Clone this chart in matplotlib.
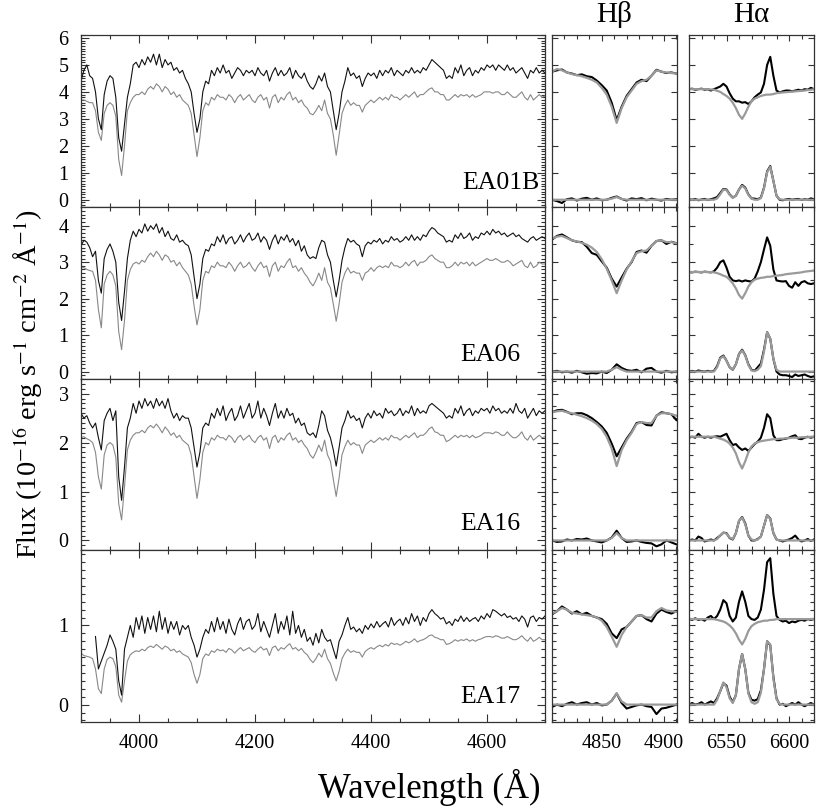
#!/usr/bin/env python
#------------------------------
# EA galaxies: blue spectra (data + model) with Hbeta / Halpha zooms
#------------------------------

import numpy as np
import matplotlib
matplotlib.use('Agg')
import matplotlib.pyplot as plt
from matplotlib.ticker import MultipleLocator

nan = np.nan

#------------------------------
# wavelength grids (Angstrom)

wl_blue = np.arange(3900, 4701, 5)
wl_hb   = np.arange(4810, 4911, 4)
wl_ha   = np.arange(6520, 6620.1, 2.5)

names = ['EA01B', 'EA06', 'EA16', 'EA17']

#------------------------------
# blue spectra, observed (obs) and model (mod), 10 values per 50 A

obs_ea01b = [4.4, 4.8, 5.0, 4.6, 4.5, 4.0, 3.0, 2.6, 3.9, 4.4,
             4.6, 4.5, 3.8, 2.3, 1.8, 2.8, 3.8, 4.3, 5.0, 5.1,
             4.9, 5.2, 5.0, 5.3, 5.1, 5.4, 5.0, 5.4, 4.9, 5.2,
             5.0, 5.1, 4.8, 4.9, 4.7, 4.8, 4.5, 4.3, 4.0, 3.2,
             2.5, 3.0, 4.0, 4.4, 4.3, 4.8, 4.6, 4.9, 4.7, 5.0,
             4.7, 4.8, 4.5, 4.7, 4.9, 4.8, 4.6, 4.8, 4.7, 4.8,
             4.6, 4.9, 4.7, 4.6, 4.8, 4.4, 4.7, 4.9, 4.6, 4.8,
             4.6, 4.7, 4.9, 4.5, 4.8, 4.6, 4.5, 4.7, 4.4, 4.2,
             4.1, 4.3, 4.6, 4.4, 4.7, 4.2, 4.0, 3.3, 2.6, 3.2,
             4.0, 4.4, 4.9, 4.6, 4.7, 4.5, 4.6, 4.2, 4.5, 4.7,
             4.6, 4.7, 4.5, 4.8, 4.6, 4.8, 4.7, 4.9, 4.6, 4.8,
             4.7, 4.6, 4.8, 4.7, 4.9, 4.7, 4.8, 4.7, 4.9, 4.8,
             5.0, 5.2, 5.1, 5.0, 4.9, 4.8, 4.5, 4.6, 4.5, 4.9,
             4.7, 5.0, 4.6, 4.8, 4.9, 4.6, 4.8, 4.7, 4.9, 4.8,
             5.0, 4.9, 5.0, 4.8, 5.0, 4.9, 4.8, 5.0, 4.8, 4.9,
             4.7, 4.8, 4.9, 4.7, 4.5, 4.8, 4.7, 4.9, 4.7, 4.8,
             4.7]
mod_ea01b = [3.7, 3.7, 3.65, 3.6, 3.6, 3.3, 2.5, 2.2, 3.2, 3.5,
             3.6, 3.5, 3.1, 1.5, 0.9, 2.0, 3.3, 3.6, 3.8, 3.9,
             3.9, 4.0, 3.9, 4.1, 4.2, 4.1, 4.3, 4.2, 4.0, 4.2,
             4.1, 3.9, 4.0, 3.8, 3.9, 3.7, 3.6, 3.5, 3.2, 2.4,
             1.6, 2.3, 3.3, 3.6, 3.5, 3.8, 3.7, 3.9, 3.8, 3.8,
             3.7, 3.9, 3.8, 3.6, 3.8, 3.9, 3.7, 3.8, 3.9, 3.7,
             3.6, 3.8, 3.9, 3.7, 3.8, 3.4, 3.8, 3.9, 3.6, 3.8,
             3.7, 3.9, 4.0, 3.7, 3.8, 3.6, 3.7, 3.5, 3.4, 3.2,
             3.15, 3.3, 3.5, 3.3, 3.7, 3.2, 3.0, 2.4, 1.65, 2.4,
             3.2, 3.5, 3.7, 3.5, 3.6, 3.5, 3.5, 3.25, 3.5, 3.6,
             3.7, 3.6, 3.7, 3.8, 3.7, 3.8, 3.7, 3.9, 3.8, 3.8,
             3.7, 3.8, 3.9, 3.8, 3.9, 4.0, 3.8, 3.9, 3.9, 4.0,
             4.1, 4.15, 4.0, 4.0, 3.9, 3.9, 3.7, 3.7, 3.8, 3.9,
             3.8, 3.9, 3.85, 3.9, 3.8, 3.9, 3.8, 3.85, 3.9, 4.0,
             4.0, 4.0, 3.95, 4.0, 4.0, 3.9, 3.9, 4.0, 3.9, 3.8,
             3.8, 3.9, 4.0, 3.8, 3.7, 3.9, 3.7, 3.8, 3.9, 3.8,
             3.85]

obs_ea06 = [3.45, 3.6, 3.55, 3.4, 3.15, 3.3, 2.5, 2.15, 3.1, 3.35,
            3.5, 3.3, 3.0, 1.9, 1.4, 2.2, 3.1, 3.6, 3.85, 3.7,
            3.9, 3.8, 4.05, 3.85, 4.0, 3.9, 4.05, 3.8, 3.95, 3.7,
            3.85, 3.65, 3.6, 3.75, 3.55, 3.6, 3.5, 3.45, 3.2, 2.6,
            2.0, 2.4, 3.1, 3.35, 3.3, 3.5, 3.45, 3.7, 3.55, 3.75,
            3.5, 3.65, 3.7, 3.5, 3.6, 3.75, 3.55, 3.7, 3.8, 3.6,
            3.65, 3.8, 3.55, 3.7, 3.6, 3.35, 3.6, 3.75, 3.5, 3.7,
            3.6, 3.75, 3.55, 3.65, 3.45, 3.6, 3.3, 3.45, 3.2, 3.1,
            3.15, 3.1, 3.4, 3.6, 3.55, 3.2, 3.0, 2.5, 2.05, 2.5,
            3.05, 3.4, 3.65, 3.55, 3.6, 3.5, 3.45, 3.15, 3.45, 3.55,
            3.5, 3.6, 3.55, 3.65, 3.5, 3.6, 3.55, 3.7, 3.6, 3.65,
            3.55, 3.6, 3.7, 3.6, 3.75, 3.6, 3.7, 3.6, 3.75, 3.7,
            3.85, 3.95, 3.9, 3.8, 3.75, 3.7, 3.55, 3.6, 3.55, 3.75,
            3.65, 3.8, 3.65, 3.7, 3.8, 3.6, 3.7, 3.65, 3.8, 3.75,
            3.85, 3.75, 3.9, 3.8, 3.85, 3.75, 3.8, 3.7, 3.75, 3.8,
            3.7, 3.75, 3.65, 3.6, 3.55, 3.65, 3.7, 3.6, 3.65, 3.7,
            3.65]
mod_ea06 = [2.85, 2.85, 2.8, 2.77, 2.75, 2.5, 1.7, 1.2, 2.4, 2.65,
            2.75, 2.65, 2.35, 1.1, 0.6, 1.4, 2.5, 2.8, 2.95, 3.0,
            2.95, 3.05, 3.0, 3.15, 3.25, 3.15, 3.3, 3.2, 3.05, 3.2,
            3.15, 3.0, 3.05, 2.9, 3.0, 2.85, 2.75, 2.65, 2.4, 1.8,
            1.28, 1.7, 2.5, 2.75, 2.7, 2.9, 2.85, 3.0, 2.9, 2.9,
            2.85, 3.0, 2.9, 2.75, 2.9, 3.0, 2.85, 2.9, 3.0, 2.85,
            2.75, 2.9, 3.0, 2.85, 2.9, 2.6, 2.9, 3.0, 2.75, 2.9,
            2.85, 3.0, 3.1, 2.85, 2.9, 2.75, 2.85, 2.7, 2.6, 2.45,
            2.35, 2.5, 2.7, 2.5, 2.85, 2.45, 2.3, 1.85, 1.38, 1.85,
            2.45, 2.7, 2.85, 2.7, 2.75, 2.7, 2.7, 2.5, 2.7, 2.75,
            2.85, 2.75, 2.85, 2.9, 2.85, 2.9, 2.85, 3.0, 2.9, 2.9,
            2.85, 2.9, 3.0, 2.9, 3.0, 3.05, 2.9, 3.0, 3.0, 3.05,
            3.15, 3.2, 3.1, 3.05, 3.0, 3.0, 2.85, 2.85, 2.9, 3.0,
            2.9, 3.0, 2.95, 3.0, 2.9, 3.0, 2.9, 2.95, 3.0, 3.05,
            3.1, 3.05, 3.05, 3.1, 3.05, 3.0, 3.0, 3.05, 3.0, 2.9,
            2.95, 3.0, 3.05, 2.9, 2.85, 3.0, 2.85, 2.9, 3.0, 2.95,
            2.95]

obs_ea16 = [2.6, 2.5, 2.55, 2.4, 2.3, 2.4, 2.1, 1.85, 2.45, 2.6,
            2.7, 2.45, 2.65, 1.3, 0.82, 1.5, 2.3, 2.5, 2.8, 2.6,
            2.85, 2.7, 2.9, 2.75, 2.85, 2.7, 2.9, 2.75, 2.85, 2.7,
            2.9, 2.65, 2.5, 2.6, 2.45, 2.55, 2.5, 2.5, 2.3, 1.9,
            1.5, 1.8, 2.3, 2.4, 2.35, 2.6, 2.5, 2.7, 2.55, 2.75,
            2.45, 2.6, 2.7, 2.45, 2.55, 2.75, 2.5, 2.65, 2.8, 2.5,
            2.6, 2.85, 2.5, 2.7, 2.55, 2.35, 2.6, 2.8, 2.5, 2.65,
            2.5, 2.7, 2.55, 2.6, 2.4, 2.5, 2.35, 2.4, 2.2, 2.15,
            2.2, 2.1, 2.35, 2.65, 2.55, 2.25, 2.1, 1.85, 1.52, 1.9,
            2.3, 2.45, 2.65, 2.5, 2.55, 2.45, 2.5, 2.3, 2.5, 2.6,
            2.5, 2.65, 2.55, 2.6, 2.5, 2.7, 2.6, 2.65, 2.55, 2.6,
            2.7, 2.55, 2.65, 2.6, 2.75, 2.55, 2.7, 2.6, 2.65, 2.6,
            2.75, 2.8, 2.75, 2.7, 2.65, 2.6, 2.5, 2.55, 2.5, 2.7,
            2.6, 2.75, 2.55, 2.65, 2.7, 2.55, 2.65, 2.6, 2.7, 2.65,
            2.7, 2.6, 2.75, 2.65, 2.7, 2.6, 2.65, 2.6, 2.7, 2.6,
            2.8, 2.65, 2.6, 2.7, 2.5, 2.6, 2.7, 2.55, 2.65, 2.6,
            2.65]
mod_ea16 = [2.1, 2.12, 2.08, 2.05, 2.0, 1.8, 1.3, 1.05, 1.75, 1.95,
            2.0, 1.95, 1.7, 0.75, 0.42, 1.1, 1.85, 2.05, 2.15, 2.2,
            2.2, 2.25, 2.2, 2.3, 2.35, 2.3, 2.38, 2.3, 2.2, 2.32,
            2.25, 2.15, 2.2, 2.1, 2.15, 2.05, 2.0, 1.95, 1.75, 1.3,
            0.86, 1.25, 1.8, 2.0, 1.95, 2.1, 2.05, 2.15, 2.1, 2.1,
            2.05, 2.15, 2.1, 2.0, 2.1, 2.15, 2.05, 2.1, 2.15, 2.05,
            2.0, 2.1, 2.15, 2.05, 2.1, 1.88, 2.1, 2.15, 2.0, 2.1,
            2.05, 2.15, 2.2, 2.05, 2.1, 2.0, 2.05, 1.95, 1.88, 1.75,
            1.68, 1.8, 1.95, 1.82, 2.05, 1.75, 1.62, 1.25, 0.9, 1.28,
            1.75, 1.92, 2.05, 1.95, 2.0, 1.95, 1.95, 1.78, 1.95, 2.0,
            2.05, 2.0, 2.05, 2.1, 2.05, 2.1, 2.05, 2.15, 2.1, 2.1,
            2.05, 2.1, 2.15, 2.1, 2.15, 2.2, 2.1, 2.15, 2.15, 2.2,
            2.28, 2.32, 2.22, 2.2, 2.15, 2.15, 2.02, 2.05, 2.1, 2.15,
            2.1, 2.15, 2.12, 2.15, 2.1, 2.15, 2.1, 2.12, 2.15, 2.2,
            2.2, 2.2, 2.18, 2.22, 2.2, 2.15, 2.15, 2.22, 2.15, 2.1,
            2.1, 2.15, 2.22, 2.1, 2.05, 2.15, 2.05, 2.1, 2.15, 2.1,
            2.12]

obs_ea17 = [nan, nan, nan, nan, nan, 0.86, 0.45, 0.55, 0.65, 0.75,
            0.88, 0.8, 0.7, 0.3, 0.12, 0.7, 0.85, 1.0, 0.85, 1.1,
            0.95, 1.12, 0.9, 1.1, 0.95, 1.12, 0.92, 1.18, 0.95, 1.1,
            0.9, 1.05, 0.95, 1.05, 0.88, 1.0, 0.95, 1.0, 0.85, 0.75,
            0.6, 0.7, 0.85, 0.95, 0.9, 1.05, 0.92, 1.1, 0.95, 1.05,
            0.9, 1.08, 0.95, 0.88, 1.02, 1.1, 0.95, 1.05, 1.08, 0.95,
            1.0, 1.15, 0.92, 1.05, 0.95, 0.85, 1.0, 1.15, 0.9, 1.05,
            0.95, 1.12, 0.88, 1.18, 0.9, 1.0, 0.85, 0.95, 0.8, 0.85,
            0.75, 0.9, 0.78, 0.95, 0.85, 0.8, 0.82, 0.7, 0.58, 0.8,
            0.88, 1.0, 1.1, 0.95, 0.98, 0.92, 0.96, 0.9, 1.0, 0.95,
            1.02, 0.97, 1.05, 0.98, 1.02, 1.05, 0.98, 1.1, 1.0, 1.05,
            1.08, 1.0, 1.1, 1.02, 1.15, 1.05, 1.12, 1.0, 1.1, 1.05,
            1.15, 1.2, 1.15, 1.12, 1.08, 1.1, 1.02, 1.05, 1.0, 1.08,
            1.05, 1.12, 1.05, 1.1, 1.05, 1.08, 1.1, 1.05, 1.12, 1.08,
            1.15, 1.1, 1.2, 1.18, 1.15, 1.12, 1.15, 1.1, 1.12, 1.08,
            1.1, 1.05, 1.12, 1.08, 0.98, 1.1, 1.12, 1.05, 1.1, 1.08,
            1.12]
mod_ea17 = [0.65, 0.62, 0.61, 0.6, 0.58, 0.45, 0.2, 0.14, 0.45, 0.57,
            0.6, 0.58, 0.48, 0.12, 0.03, 0.3, 0.55, 0.63, 0.66, 0.68,
            0.67, 0.7, 0.68, 0.72, 0.74, 0.72, 0.76, 0.73, 0.7, 0.74,
            0.72, 0.68, 0.7, 0.66, 0.68, 0.64, 0.62, 0.6, 0.53, 0.38,
            0.27, 0.38, 0.58, 0.64, 0.62, 0.68, 0.66, 0.7, 0.68, 0.69,
            0.66, 0.71, 0.69, 0.65, 0.69, 0.72, 0.68, 0.7, 0.72, 0.68,
            0.66, 0.7, 0.73, 0.69, 0.71, 0.62, 0.72, 0.74, 0.68, 0.72,
            0.7, 0.74, 0.77, 0.7, 0.72, 0.68, 0.71, 0.66, 0.63, 0.57,
            0.53, 0.58, 0.65, 0.6, 0.7, 0.58, 0.52, 0.4, 0.3, 0.42,
            0.58, 0.65, 0.7, 0.66, 0.68, 0.66, 0.66, 0.6, 0.67, 0.7,
            0.72, 0.7, 0.73, 0.75, 0.73, 0.76, 0.74, 0.78, 0.76, 0.77,
            0.75, 0.77, 0.8, 0.78, 0.8, 0.83, 0.79, 0.81, 0.82, 0.84,
            0.87, 0.88, 0.85, 0.84, 0.82, 0.82, 0.76, 0.77, 0.79, 0.82,
            0.8, 0.82, 0.81, 0.83, 0.8, 0.82, 0.8, 0.82, 0.83, 0.85,
            0.86, 0.86, 0.85, 0.87, 0.86, 0.84, 0.84, 0.86, 0.84, 0.82,
            0.82, 0.84, 0.87, 0.83, 0.8, 0.85, 0.8, 0.82, 0.85, 0.82,
            0.82]

#------------------------------
# Hbeta zoom: observed, model, residual (obs - model), emission fit

hb_obs_ea01b = [4.75, 4.8, 4.83, 4.72, 4.68, 4.62, 4.65, 4.58, 4.55, 4.42, 4.25, 4.05, 3.6,
                2.95, 3.45, 3.85, 4.1, 4.35, 4.45, 4.4, 4.6, 4.82, 4.75, 4.7, 4.72, 4.68]
hb_mod_ea01b = [4.75, 4.85, 4.8, 4.72, 4.66, 4.62, 4.58, 4.52, 4.45, 4.35, 4.15, 3.9, 3.45,
                2.85, 3.4, 3.8, 4.05, 4.3, 4.4, 4.45, 4.6, 4.8, 4.75, 4.72, 4.7, 4.68]
hb_res_ea01b = [0.0, -0.05, -0.12, 0.02, 0.05, -0.03, 0.04, 0.07, 0.0, 0.05, -0.02, 0.0, 0.07,
                0.12, 0.03, -0.03, 0.05, 0.02, 0.06, -0.02, 0.04, 0.0, -0.03, 0.03, 0.0, 0.02]
hb_fit_ea01b = [0.0]*12 + [0.04, 0.1, 0.03] + [0.0]*11

hb_obs_ea06 = [3.62, 3.72, 3.76, 3.68, 3.6, 3.56, 3.55, 3.42, 3.25, 3.2, 3.02, 2.85, 2.55,
               2.33, 2.58, 2.82, 3.0, 3.28, 3.32, 3.26, 3.45, 3.58, 3.6, 3.5, 3.56, 3.52]
hb_mod_ea06 = [3.65, 3.7, 3.72, 3.66, 3.6, 3.57, 3.53, 3.48, 3.4, 3.28, 3.08, 2.82, 2.5,
               2.15, 2.5, 2.8, 3.02, 3.25, 3.3, 3.32, 3.45, 3.58, 3.6, 3.55, 3.55, 3.52]
hb_res_ea06 = [0.0, 0.02, -0.02, 0.0, -0.03, 0.02, -0.02, -0.06, -0.04, -0.05, 0.0, -0.04, 0.05,
               0.2, 0.1, 0.04, 0.02, 0.05, -0.02, 0.08, 0.1, 0.0, -0.03, 0.02, -0.02, 0.0]
hb_fit_ea06 = [0.0]*12 + [0.05, 0.12, 0.05] + [0.0]*11

hb_obs_ea16 = [2.62, 2.66, 2.67, 2.63, 2.58, 2.6, 2.6, 2.56, 2.5, 2.42, 2.33, 2.2, 1.98,
               1.72, 1.9, 2.08, 2.22, 2.4, 2.42, 2.36, 2.35, 2.55, 2.62, 2.6, 2.58, 2.46]
hb_mod_ea16 = [2.62, 2.64, 2.65, 2.62, 2.6, 2.57, 2.54, 2.5, 2.45, 2.38, 2.28, 2.12, 1.88,
               1.52, 1.85, 2.05, 2.2, 2.38, 2.42, 2.4, 2.4, 2.55, 2.6, 2.6, 2.58, 2.55]
hb_res_ea16 = [0.0, -0.03, -0.02, 0.02, 0.0, 0.03, 0.02, 0.04, 0.0, -0.02, -0.04, 0.0, 0.06,
               0.2, 0.05, -0.03, -0.02, 0.0, -0.03, -0.05, -0.06, -0.12, -0.08, 0.0, -0.04, -0.08]
hb_fit_ea16 = [0.0]*12 + [0.05, 0.15, 0.05] + [0.0]*11

hb_obs_ea17 = [1.14, 1.18, 1.24, 1.2, 1.15, 1.18, 1.14, 1.16, 1.12, 1.1, 1.08, 1.02, 0.9,
               0.84, 0.95, 0.98, 1.05, 1.12, 1.13, 1.08, 1.05, 1.15, 1.2, 1.17, 1.15, 1.18]
hb_mod_ea17 = [1.15, 1.18, 1.22, 1.2, 1.16, 1.15, 1.14, 1.13, 1.12, 1.1, 1.06, 0.98, 0.86,
               0.73, 0.88, 0.98, 1.05, 1.12, 1.13, 1.1, 1.1, 1.18, 1.22, 1.19, 1.18, 1.17]
hb_res_ea17 = [-0.03, 0.0, -0.02, 0.01, 0.03, 0.0, 0.02, 0.03, 0.0, 0.02, -0.01, 0.0, 0.05,
               0.14, 0.02, -0.05, -0.03, -0.01, 0.0, -0.02, -0.03, -0.12, -0.05, -0.04, -0.02, 0.0]
hb_fit_ea17 = [0.0]*12 + [0.05, 0.14, 0.04] + [0.0]*11

#------------------------------
# Halpha + [NII] zoom, same four curves

ha_obs_ea01b = [4.1, 4.12, 4.08, 4.1, 4.12, 4.08, 4.1, 4.05, 4.1, 4.15,
                4.2, 4.3, 4.2, 3.95, 3.75, 3.65, 3.65, 3.6, 3.62, 3.55,
                3.65, 3.8, 3.9, 3.98, 4.3, 5.0, 5.3, 4.6, 4.05, 3.98,
                4.02, 4.05, 4.05, 4.02, 4.05, 4.08, 4.05, 4.1, 4.08, 4.15, 4.1]
ha_mod_ea01b = [4.1, 4.1, 4.1, 4.1, 4.1, 4.1, 4.1, 4.09, 4.08, 4.04,
                4.0, 3.92, 3.85, 3.75, 3.6, 3.4, 3.15, 3.0, 3.2, 3.45,
                3.65, 3.75, 3.8, 3.85, 3.88, 3.9, 3.9, 3.92, 3.95, 3.97,
                3.98, 3.99, 4.0, 4.01, 4.02, 4.03, 4.04, 4.05, 4.07, 4.08, 4.1]
ha_res_ea01b = [0.02, 0.0, 0.03, -0.02, 0.01, 0.03, -0.01, 0.02, 0.05, 0.1,
                0.25, 0.4, 0.38, 0.2, 0.08, 0.15, 0.38, 0.55, 0.45, 0.2,
                0.05, 0.04, 0.02, 0.08, 0.45, 1.05, 1.25, 0.7, 0.15, 0.0,
                -0.02, 0.01, 0.03, 0.0, 0.02, 0.03, -0.01, 0.02, 0.0, 0.05, 0.02]
ha_fit_ea01b = [0.0, 0.0, 0.0, 0.0, 0.0, 0.0, 0.0, 0.0, 0.0, 0.05,
                0.2, 0.38, 0.36, 0.18, 0.07, 0.15, 0.38, 0.52, 0.42, 0.18,
                0.04, 0.0, 0.0, 0.06, 0.42, 1.02, 1.22, 0.7, 0.15, 0.02] + [0.0]*11

ha_obs_ea06 = [2.73, 2.72, 2.74, 2.73, 2.72, 2.74, 2.73, 2.72, 2.75, 2.85,
               3.0, 3.05, 2.85, 2.6, 2.5, 2.48, 2.5, 2.47, 2.5, 2.48,
               2.47, 2.55, 2.75, 3.0, 3.35, 3.68, 3.45, 2.8, 2.5, 2.48,
               2.47, 2.48, 2.35, 2.3, 2.45, 2.35, 2.45, 2.48, 2.42, 2.4, 2.42]
ha_mod_ea06 = [2.73, 2.73, 2.73, 2.73, 2.73, 2.73, 2.73, 2.73, 2.72, 2.7,
               2.67, 2.63, 2.6, 2.52, 2.42, 2.28, 2.1, 2.0, 2.15, 2.33,
               2.45, 2.52, 2.55, 2.57, 2.58, 2.6, 2.6, 2.62, 2.63, 2.64,
               2.65, 2.67, 2.68, 2.69, 2.7, 2.71, 2.72, 2.74, 2.75, 2.76, 2.77]
ha_res_ea06 = [0.0, 0.02, 0.0, 0.03, 0.01, 0.0, 0.02, 0.0, 0.02, 0.15,
               0.38, 0.44, 0.3, 0.12, 0.05, 0.2, 0.48, 0.6, 0.45, 0.2,
               0.05, 0.02, 0.12, 0.22, 0.6, 1.08, 0.9, 0.35, 0.0, -0.08,
               -0.1, -0.1, -0.12, -0.15, -0.08, -0.12, -0.1, -0.08, -0.12, -0.15, -0.13]
ha_fit_ea06 = [0.0, 0.0, 0.0, 0.0, 0.0, 0.0, 0.0, 0.0, 0.0, 0.12,
               0.36, 0.42, 0.3, 0.12, 0.06, 0.2, 0.47, 0.58, 0.44, 0.18,
               0.03, 0.01, 0.05, 0.15, 0.55, 1.08, 0.9, 0.35, 0.05, 0.0] + [0.0]*11

ha_obs_ea16 = [2.1, 2.12, 2.1, 2.18, 2.12, 2.1, 2.12, 2.1, 2.12, 2.13,
               2.12, 2.15, 2.18, 2.05, 1.95, 1.97, 1.9, 1.85, 1.88, 1.83,
               1.9, 1.97, 2.02, 2.1, 2.3, 2.58, 2.5, 2.15, 2.05, 2.05,
               2.07, 2.08, 2.1, 2.13, 2.15, 2.08, 2.07, 2.1, 2.12, 2.1, 2.12]
ha_mod_ea16 = [2.12, 2.12, 2.12, 2.12, 2.12, 2.12, 2.12, 2.12, 2.12, 2.1,
               2.08, 2.06, 2.03, 1.98, 1.9, 1.78, 1.6, 1.47, 1.62, 1.8,
               1.92, 1.98, 2.01, 2.03, 2.04, 2.05, 2.06, 2.07, 2.07, 2.08,
               2.08, 2.09, 2.09, 2.1, 2.1, 2.1, 2.11, 2.11, 2.11, 2.12, 2.12]
ha_res_ea16 = [0.0, 0.02, 0.0, 0.08, 0.05, -0.02, 0.0, 0.02, 0.0, 0.05,
               0.1, 0.16, 0.15, 0.05, 0.02, 0.15, 0.4, 0.48, 0.35, 0.1,
               0.0, 0.0, 0.03, 0.08, 0.3, 0.52, 0.45, 0.15, 0.02, 0.0,
               -0.02, 0.0, 0.02, 0.05, 0.1, 0.02, -0.02, 0.0, 0.03, -0.01, 0.02]
ha_fit_ea16 = [0.0, 0.0, 0.0, 0.0, 0.0, 0.0, 0.0, 0.0, 0.0, 0.03,
               0.1, 0.16, 0.14, 0.06, 0.03, 0.15, 0.4, 0.47, 0.33, 0.1,
               0.02, 0.0, 0.02, 0.08, 0.3, 0.52, 0.44, 0.15, 0.02, 0.0] + [0.0]*11

ha_obs_ea17 = [1.08, 1.07, 1.09, 1.07, 1.08, 1.06, 1.1, 1.12, 1.08, 1.12,
               1.2, 1.32, 1.28, 1.12, 1.05, 1.1, 1.3, 1.43, 1.3, 1.12,
               1.08, 1.07, 1.1, 1.2, 1.45, 1.8, 1.85, 1.4, 1.12, 1.07,
               1.05, 1.06, 1.03, 1.05, 1.04, 1.06, 1.07, 1.06, 1.08, 1.07, 1.08]
ha_mod_ea17 = [1.08, 1.08, 1.08, 1.08, 1.08, 1.08, 1.08, 1.08, 1.08, 1.07,
               1.06, 1.05, 1.03, 1.0, 0.96, 0.9, 0.82, 0.76, 0.83, 0.93,
               0.99, 1.02, 1.04, 1.05, 1.06, 1.06, 1.07, 1.07, 1.08, 1.08] + [1.08]*11
ha_res_ea17 = [0.0, 0.02, 0.0, 0.01, 0.03, 0.0, 0.02, 0.04, 0.02, 0.08,
               0.17, 0.27, 0.24, 0.1, 0.03, 0.12, 0.45, 0.64, 0.45, 0.15,
               0.06, 0.05, 0.07, 0.18, 0.45, 0.8, 0.75, 0.35, 0.08, 0.0,
               0.01, -0.02, 0.0, 0.02, 0.0, 0.03, 0.0, -0.02, 0.0, 0.02, 0.0]
ha_fit_ea17 = [0.0, 0.0, 0.0, 0.0, 0.0, 0.0, 0.0, 0.0, 0.0, 0.06,
               0.17, 0.28, 0.22, 0.08, 0.02, 0.12, 0.45, 0.64, 0.45, 0.14,
               0.03, 0.01, 0.03, 0.15, 0.45, 0.8, 0.76, 0.33, 0.07, 0.01] + [0.0]*11

#------------------------------
# per-row axis setup

ylims       = [(-0.26, 6.11), (-0.19, 4.52), (-0.20, 3.31), (-0.22, 1.95)]
small_minor = [1.0, 0.5, 0.25, 0.1]
label_pos   = [(0.989, 0.14), (0.946, 0.134), (0.946, 0.151), (0.946, 0.145)]

#------------------------------

def style_axis(ax, xmaj, xmin, ymaj, ymin, maj_len=6, min_len=3) :
    ax.xaxis.set_major_locator(MultipleLocator(xmaj))
    ax.xaxis.set_minor_locator(MultipleLocator(xmin))
    ax.yaxis.set_major_locator(MultipleLocator(ymaj))
    ax.yaxis.set_minor_locator(MultipleLocator(ymin))
    ax.tick_params(which='both', direction='in', top=True, right=True,
                   labelsize=14.5, width=0.8, color='#333333')
    ax.tick_params(which='major', length=maj_len, pad=9)
    ax.tick_params(which='minor', length=min_len)
    for sp in ax.spines.values() :
        sp.set_linewidth(0.9)
        sp.set_color('#333333')

#------------------------------

def make_plot() :
    plt.rcParams['font.family'] = ['Liberation Serif', 'DejaVu Serif']
    plt.rcParams['mathtext.fontset'] = 'stix'

    fig = plt.figure(figsize=(8.3, 8.08), dpi=100)

    top, bot = 1 - 35/808., 1 - 722/808.
    h = (top - bot) / 4.
    x_blue, w_blue = 81/830., 464/830.
    x_hb, x_ha, w_small = 552/830., 689/830., 125/830.

    blue = [(obs_ea01b, mod_ea01b), (obs_ea06, mod_ea06),
            (obs_ea16, mod_ea16), (obs_ea17, mod_ea17)]
    hbeta = [(hb_obs_ea01b, hb_mod_ea01b, hb_res_ea01b, hb_fit_ea01b),
             (hb_obs_ea06, hb_mod_ea06, hb_res_ea06, hb_fit_ea06),
             (hb_obs_ea16, hb_mod_ea16, hb_res_ea16, hb_fit_ea16),
             (hb_obs_ea17, hb_mod_ea17, hb_res_ea17, hb_fit_ea17)]
    halpha = [(ha_obs_ea01b, ha_mod_ea01b, ha_res_ea01b, ha_fit_ea01b),
              (ha_obs_ea06, ha_mod_ea06, ha_res_ea06, ha_fit_ea06),
              (ha_obs_ea16, ha_mod_ea16, ha_res_ea16, ha_fit_ea16),
              (ha_obs_ea17, ha_mod_ea17, ha_res_ea17, ha_fit_ea17)]

    for i, name in enumerate(names) :
        y0 = top - (i + 1) * h
        last = (i == len(names) - 1)

        # blue spectrum
        ax = fig.add_axes([x_blue, y0, w_blue, h])
        obs, mod = blue[i]
        ax.plot(wl_blue, mod, color='#888888', lw=0.8)
        ax.plot(wl_blue, obs, color='#111111', lw=0.8)
        ax.set_xlim(3900, 4700)
        ax.set_ylim(*ylims[i])
        style_axis(ax, 200, 50, 1, 0.1)
        ax.tick_params(labelbottom=last)
        ax.text(label_pos[i][0], label_pos[i][1], name, transform=ax.transAxes,
                ha='right', va='center', fontsize=18.5)

        # Hbeta and Halpha zooms
        for x0, wl, curves, xlim, xmaj in ((x_hb, wl_hb, hbeta[i], (4810, 4910.5), 50),
                                           (x_ha, wl_ha, halpha[i], (6520, 6620), 50)) :
            axs = fig.add_axes([x0, y0, w_small, h])
            obs, mod, res, fit = curves
            axs.plot(wl, obs, color='black', lw=1.5)
            axs.plot(wl, mod, color='#9a9a9a', lw=1.6)
            axs.plot(wl, res, color='black', lw=1.5)
            axs.plot(wl, fit, color='#9a9a9a', lw=1.6)
            axs.set_xlim(*xlim)
            axs.set_ylim(*ylims[i])
            style_axis(axs, xmaj, 10, 1, small_minor[i], maj_len=4, min_len=3)
            axs.tick_params(labelleft=False, labelbottom=last)

    fig.text((x_hb + w_small/2), 1 - 15/808., u'H\u03b2', ha='center', va='center', fontsize=21)
    fig.text((x_ha + w_small/2), 1 - 15/808., u'H\u03b1', ha='center', va='center', fontsize=21)

    fig.text(0.034, 1 - 384/808., u'Flux (10$^{-16}$ erg s$^{-1}$ cm$^{-2}$ \u00c5$^{-1}$)',
             rotation=90, ha='center', va='center', fontsize=20.5)
    fig.text(0.517, 1 - 787/808., u'Wavelength (\u00c5)', ha='center', va='center', fontsize=25)

    fig.savefig('out.png', dpi=100)

#------------------------------

if __name__ == "__main__" :
    make_plot()

#------------------------------
